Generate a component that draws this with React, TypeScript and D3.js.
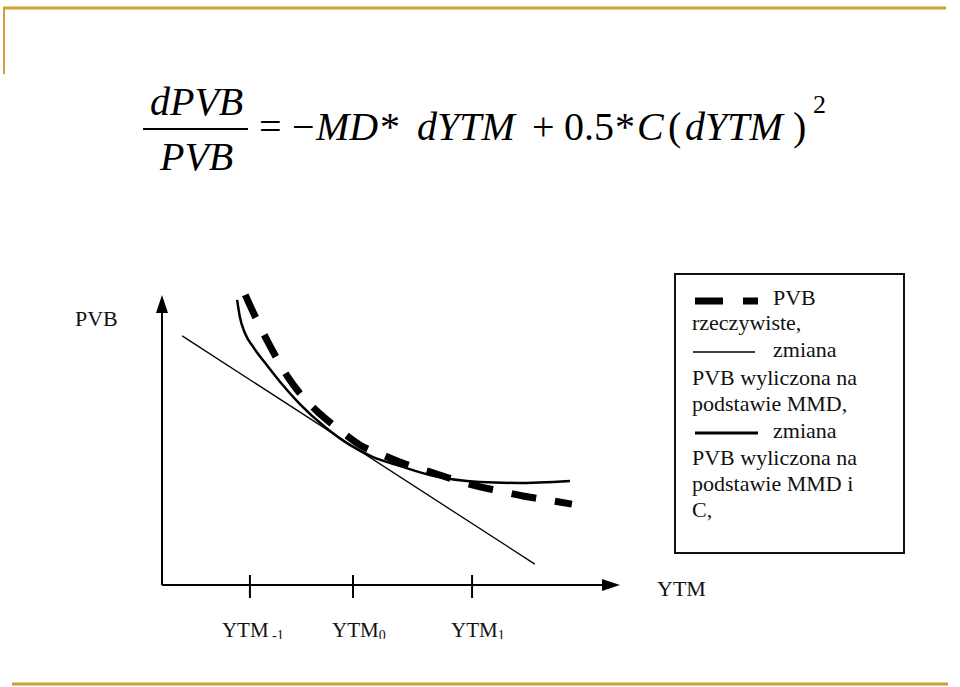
import React from "react";
import * as d3 from "d3";

// ---- data (arbitrary units: YTM on x 0..100, PVB on y 0..100) ----
const ytmTicks = [19.2, 41.7, 67.7];
const ytmTickLabels = [
  { main: "YTM", sub: " -1" },
  { main: "YTM", sub: "0" },
  { main: "YTM", sub: "1" },
];
const solidX = [16.4, 17.0, 18.1, 19.9, 22.5, 25.8, 30.1, 35.6, 41.0, 46.1, 52.0, 58.5, 69.4, 77.5, 89.1];
const solidY = [98.3, 92.4, 86.9, 82.1, 76.6, 70.0, 62.4, 54.5, 48.3, 44.1, 41.0, 37.9, 35.5, 35.2, 35.9];
const dashedX = [17.9, 20.7, 23.6, 27.5, 31.2, 34.5, 39.3, 43.2, 48.3, 53.1, 58.5, 63.3, 68.8, 73.8, 78.8, 84.1, 89.5];
const dashedY = [101.0, 91.4, 82.4, 71.7, 64.1, 59.0, 52.8, 48.3, 44.8, 41.7, 39.0, 36.6, 34.1, 32.4, 30.7, 29.3, 27.9];
const tangentX = [4.4, 81.4];
const tangentY = [85.9, 7.2];
const legendLines = [
  "rzeczywiste,",
  "PVB wyliczona na",
  "podstawie MMD,",
  "PVB wyliczona na",
  "podstawie MMD i",
  "C,",
];

const GOLD = "#CBA233";

export default function App() {
  const x = d3.scaleLinear().domain([0, 100]).range([162, 620]);
  const y = d3.scaleLinear().domain([0, 100]).range([585, 295]);
  const line = d3
    .line<[number, number]>()
    .x((d) => x(d[0]))
    .y((d) => y(d[1]))
    .curve(d3.curveMonotoneX);
  const solid = solidX.map((v, i) => [v, solidY[i]] as [number, number]);
  const dashed = dashedX.map((v, i) => [v, dashedY[i]] as [number, number]);
  const tangent = tangentX.map((v, i) => [v, tangentY[i]] as [number, number]);
  const straight = d3
    .line<[number, number]>()
    .x((d) => x(d[0]))
    .y((d) => y(d[1]));

  const eqSize = 40;
  const serifFont = "'Liberation Serif', 'DejaVu Serif', serif";

  return (
    <svg
      width={960}
      height={687}
      style={{ position: "absolute", left: 0, top: 0, background: "#fff" }}
    >
      <defs>
        <clipPath id="bottomClip">
          <rect x={0} y={0} width={960} height={639} />
        </clipPath>
      </defs>
      {/* slide decoration */}
      <line x1={3} x2={946} y1={8} y2={8} stroke={GOLD} strokeWidth={3} />
      <line x1={4} x2={4} y1={7} y2={74} stroke={GOLD} strokeWidth={2} />
      <line x1={12} x2={948} y1={684} y2={684} stroke={GOLD} strokeWidth={3} />

      {/* formula */}
      <g fontFamily={serifFont} fontSize={eqSize} fill="#000">
        <text x={150} y={115} fontStyle="italic">dPVB</text>
        <line x1={143} x2={248} y1={129} y2={129} stroke="#000" strokeWidth={2} />
        <text x={160} y={170} fontStyle="italic">PVB</text>
        <text y={140}>
          <tspan x={259}>=</tspan>
          <tspan x={292}>−</tspan>
          <tspan x={316} fontStyle="italic">MD</tspan>
          <tspan x={380}>*</tspan>
          <tspan x={417} fontStyle="italic">dYTM</tspan>
          <tspan x={532}>+</tspan>
          <tspan x={564}>0.5</tspan>
          <tspan x={615}>*</tspan>
          <tspan x={637} fontStyle="italic">C</tspan>
          <tspan x={668}>(</tspan>
          <tspan x={685} fontStyle="italic">dYTM</tspan>
          <tspan x={793}>)</tspan>
          <tspan x={813} dy={-27} fontSize={26}>2</tspan>
        </text>
      </g>

      {/* axes */}
      <g stroke="#000" strokeWidth={2}>
        <line x1={x(0)} x2={x(0)} y1={y(0)} y2={y(100) + 12} />
        <line x1={x(0)} x2={x(100) - 12} y1={y(0)} y2={y(0)} />
        {ytmTicks.map((t, i) => (
          <line key={i} x1={x(t)} x2={x(t)} y1={y(0) - 10} y2={y(0) + 13} />
        ))}
      </g>
      <path d={`M${x(0)},${y(100)} l-6,18 l12,0 z`} fill="#000" />
      <path d={`M${x(100)},${y(0)} l-18,-6 l0,12 z`} fill="#000" />
      <g fontFamily={serifFont} fill="#111">
        <text x={75} y={326} fontSize={22}>PVB</text>
        <text x={657} y={596} fontSize={22}>YTM</text>
        <g clipPath="url(#bottomClip)">
          {ytmTicks.map((t, i) => (
            <text key={i} x={x(t) - (i === 0 ? 28 : 21)} y={637} fontSize={21}>
              {ytmTickLabels[i].main}
              <tspan fontSize={14} dy={3}>{ytmTickLabels[i].sub}</tspan>
            </text>
          ))}
        </g>
      </g>

      {/* curves */}
      <path d={straight(tangent) ?? ""} fill="none" stroke="#000" strokeWidth={1.3} />
      <path d={line(solid) ?? ""} fill="none" stroke="#000" strokeWidth={2.5} />
      <path
        d={line(dashed) ?? ""}
        fill="none"
        stroke="#000"
        strokeWidth={7}
        strokeDasharray="25 19"
        strokeDashoffset={-3}
      />

      {/* legend */}
      <rect x={675} y={274} width={229} height={279} fill="#fff" stroke="#111" strokeWidth={2} />
      <g stroke="#000">
        <line x1={695} x2={723} y1={301} y2={301} strokeWidth={7} />
        <line x1={743} x2={758} y1={301} y2={301} strokeWidth={7} />
        <line x1={693} x2={755} y1={352} y2={352} strokeWidth={1.5} />
        <line x1={695} x2={758} y1={433} y2={433} strokeWidth={3} />
      </g>
      <g fontFamily={serifFont} fontSize={22} fill="#111">
        <text x={773} y={305}>PVB</text>
        <text x={692} y={330}>{legendLines[0]}</text>
        <text x={773} y={357}>zmiana</text>
        <text x={692} y={385}>{legendLines[1]}</text>
        <text x={692} y={411}>{legendLines[2]}</text>
        <text x={773} y={438}>zmiana</text>
        <text x={692} y={465}>{legendLines[3]}</text>
        <text x={692} y={491}>{legendLines[4]}</text>
        <text x={692} y={517}>{legendLines[5]}</text>
      </g>
    </svg>
  );
}
